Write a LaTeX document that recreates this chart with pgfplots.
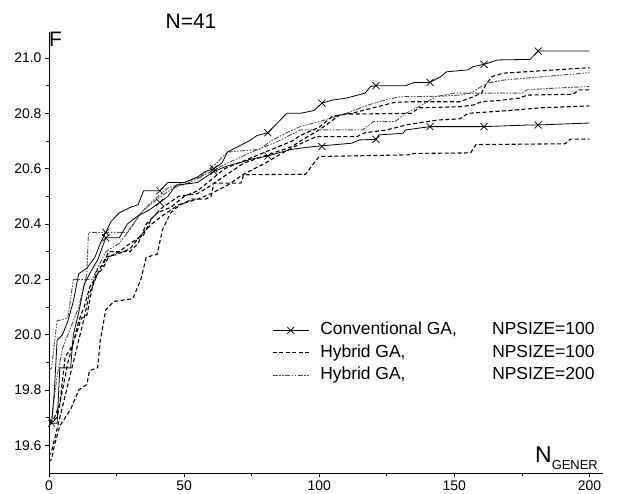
\documentclass[border=0pt]{standalone}
\usepackage{pgfplots}
\pgfplotsset{compat=1.18}
\usepackage{fontspec}
\setmainfont{Liberation Sans}
\tikzset{
  conv/.style={black, line width=0.8bp},
  hyb/.style={black, line width=1.1bp, dash pattern=on 4bp off 2.5bp},
  hybb/.style={black!70, line width=0.9bp, dash pattern=on 5bp off 1.5bp on 1.5bp off 1.5bp on 1.5bp off 1.5bp},
}
\begin{document}
\begin{tikzpicture}
\path[use as bounding box] (-49bp,-21bp) rectangle (569bp,473bp);
\begin{axis}[
  at={(0,0)}, anchor=south west,
  scale only axis, width=554bp, height=441bp,
  xmin=0, xmax=205, ymin=19.5, ymax=21.094,
  axis x line*=bottom, axis y line*=left,
  axis line style={line width=0.8bp},
  every tick/.style={black, line width=0.8bp},
  tick align=outside, major tick length=4bp, minor tick length=2.5bp,
  xtick={0,50,100,150,200}, minor xtick={25,75,125,175},
  ytick={19.6,19.8,20.0,20.2,20.4,20.6,20.8,21.0},
  minor ytick={19.7,19.9,20.1,20.3,20.5,20.7,20.9},
  yticklabel style={/pgf/number format/.cd, fixed, fixed zerofill, precision=1},
  /pgf/number format/assume math mode=true,
  tick label style={font=\fontsize{14}{16}\selectfont},
  legend cell align=left,
  legend image code/.code={\draw[mark repeat=2,mark phase=2,#1] plot coordinates {(0bp,0bp) (18bp,0bp) (36bp,0bp)};},
  legend style={draw=none, fill=none, at={(axis cs:82.5,20.047)}, anchor=north west,
    font=\fontsize{17.5}{19}\selectfont, row sep=5.5bp, inner sep=0pt,
    nodes={inner sep=0pt, text height=13bp, text depth=4bp}},
]
\addlegendimage{conv, mark=x, mark size=5bp, mark options={solid}}
\addlegendentry{\hspace{11bp}\makebox[172bp][l]{Conventional GA,}NPSIZE=100}
\addlegendimage{hyb}
\addlegendentry{\hspace{11bp}\makebox[172bp][l]{Hybrid GA,}NPSIZE=100}
\addlegendimage{hybb}
\addlegendentry{\hspace{11bp}\makebox[172bp][l]{Hybrid GA,}NPSIZE=200}

% hybrid GA, NPSIZE=200
\addplot[hybb, forget plot] coordinates {
(0,19.87)(1,19.88)(2,19.97)(3,20.05)(7,20.06)(8,20.13)(9,20.20)(16,20.20)(18,20.24)(21,20.30)(26,20.33)(30,20.38)(34,20.44)(38,20.48)(44,20.53)(50,20.55)(56,20.57)(62,20.62)(66,20.66)(78,20.67)(82,20.70)(88,20.73)(93,20.752)(100,20.77)(110,20.80)(118,20.83)(125,20.85)(130,20.86)(145,20.862)(152,20.866)(156,20.873)(160,20.897)(162,20.909)(168,20.92)(200,20.947)};
\addplot[hybb, forget plot] coordinates {
(0,19.68)(1,19.70)(3,19.85)(5,19.95)(7,20.00)(9,20.05)(11,20.10)(14,20.22)(14.6,20.37)(29,20.37)(31,20.40)(35,20.45)(40,20.49)(46,20.53)(52,20.55)(60,20.59)(66,20.62)(75,20.66)(85,20.70)(93,20.74)(116,20.74)(120,20.77)(128,20.77)(132,20.80)(138,20.83)(143,20.86)(150,20.873)(175,20.873)(177,20.885)(185,20.89)(200,20.897)};

% hybrid GA, NPSIZE=100
\addplot[hyb, forget plot] coordinates {
(0,19.68)(2,19.70)(4,19.75)(6,19.92)(8,19.95)(10,20.00)(12,20.06)(14,20.07)(16,20.17)(18,20.24)(20,20.25)(22,20.30)(30,20.30)(33,20.33)(36,20.40)(40,20.44)(45,20.46)(50,20.50)(55,20.52)(60,20.56)(65,20.60)(70,20.62)(75,20.64)(80,20.66)(85,20.68)(90,20.70)(93,20.72)(100,20.75)(105,20.79)(112,20.80)(120,20.82)(128,20.84)(135,20.842)(152,20.842)(157,20.86)(160,20.873)(162,20.909)(164,20.933)(168,20.945)(200,20.965)};
\addplot[hyb, forget plot] coordinates {
(0,19.68)(3,19.70)(5,19.80)(7,19.90)(9,19.97)(11,20.05)(13,20.10)(15,20.17)(18,20.22)(20,20.24)(22,20.28)(26,20.30)(30,20.33)(35,20.36)(38,20.42)(42,20.46)(48,20.50)(55,20.51)(60,20.54)(66,20.58)(72,20.62)(78,20.64)(84,20.66)(90,20.68)(93,20.70)(100,20.74)(108,20.797)(134,20.80)(137,20.82)(152,20.824)(157,20.83)(160,20.842)(166,20.846)(174,20.855)(177,20.866)(194,20.869)(196,20.885)(200,20.885)};
\addplot[hyb, forget plot] coordinates {
(0,19.56)(1,19.58)(3,19.66)(5,19.74)(7,19.82)(9,19.90)(11,19.98)(13,20.06)(15,20.15)(18,20.22)(21,20.28)(25,20.29)(30,20.31)(34,20.36)(38,20.40)(42,20.43)(48,20.47)(55,20.49)(60,20.51)(66,20.54)(72,20.58)(80,20.62)(87,20.66)(93,20.69)(99,20.716)(114,20.716)(117,20.73)(125,20.74)(133,20.76)(144,20.776)(152,20.78)(155,20.80)(170,20.81)(182,20.82)(200,20.827)};
\addplot[hyb, forget plot] coordinates {
(0,19.54)(1,19.55)(2,19.60)(4,19.67)(6,19.70)(8,19.73)(11,19.80)(14,19.82)(15,19.87)(18,19.88)(19,19.98)(21,20.09)(24,20.12)(31,20.13)(34,20.20)(36,20.28)(40,20.29)(42,20.38)(45,20.44)(48,20.466)(53,20.49)(58,20.49)(60,20.50)(61,20.548)(71,20.548)(72,20.578)(95,20.58)(98,20.62)(100,20.644)(133,20.65)(135,20.655)(156,20.657)(158,20.687)(191,20.69)(193,20.707)(200,20.707)};

% conventional GA, NPSIZE=100
\addplot[conv, forget plot] coordinates {
(0,19.68)(1,19.68)(2,19.80)(3,19.98)(5,20.00)(7,20.05)(9,20.12)(11,20.22)(14,20.24)(17,20.28)(19,20.33)(21,20.37)(23,20.41)(26,20.44)(30,20.46)(33,20.47)(35,20.52)(41,20.52)(44,20.55)(50,20.55)(55,20.57)(58,20.59)(61,20.60)(64,20.62)(66,20.66)(70,20.68)(74,20.70)(77,20.72)(81,20.73)(84,20.76)(88,20.80)(93,20.80)(98,20.81)(101,20.837)(105,20.848)(110,20.855)(117,20.873)(119,20.897)(121,20.90)(132,20.90)(135,20.911)(141,20.912)(145,20.933)(147,20.95)(155,20.957)(157,20.969)(161,20.977)(166,20.993)(178,20.995)(181,21.025)(200,21.025)};
\addplot[conv, forget plot] coordinates {
(0,19.68)(3,19.68)(4,19.88)(8,19.88)(9,20.00)(11,20.08)(13,20.18)(15,20.22)(18,20.27)(21,20.35)(26,20.35)(29,20.40)(33,20.43)(37,20.45)(41,20.478)(44,20.50)(47,20.54)(55,20.55)(58,20.57)(61,20.59)(66,20.61)(70,20.62)(75,20.635)(81,20.646)(86,20.66)(90,20.67)(93,20.674)(98,20.68)(105,20.686)(112,20.692)(115,20.704)(121,20.706)(122,20.722)(131,20.728)(132,20.74)(141,20.752)(161,20.752)(178,20.758)(181,20.758)(200,20.765)};
\addplot[only marks, mark=x, mark size=5bp, line width=0.7bp, black, forget plot] coordinates {
(1,19.68)(21,20.37)(41,20.52)(61,20.60)(81,20.73)(101,20.837)(121,20.90)(141,20.912)(161,20.977)(181,21.025)
(21,20.35)(41,20.478)(61,20.59)(81,20.646)(101,20.68)(121,20.706)(141,20.752)(161,20.752)(181,20.758)};
\end{axis}
\node[font=\fontsize{21}{23}\selectfont] at (142bp,451.5bp) {N=41};
\node[anchor=base west, inner sep=0pt, font=\fontsize{21}{23}\selectfont] at (0bp,426.3bp) {F};
\node[anchor=base west, inner sep=0pt] at (486bp,11bp) {\fontsize{23}{25}\selectfont N\raisebox{-7bp}{\fontsize{13}{15}\selectfont GENER}};
\end{tikzpicture}
\end{document}
